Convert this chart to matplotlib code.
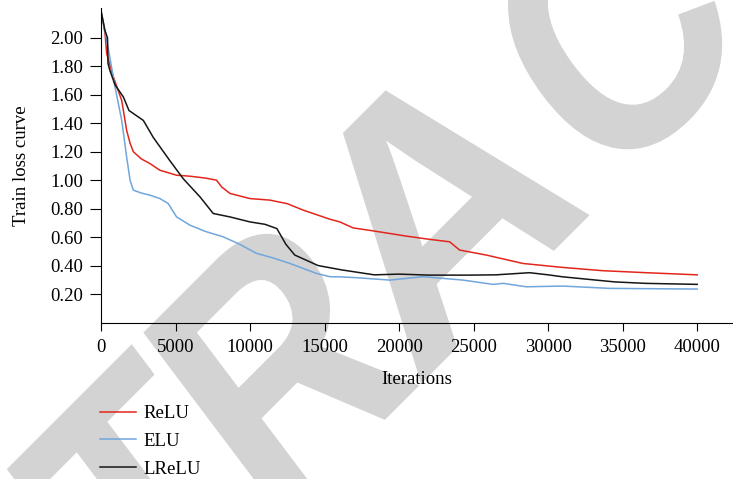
import matplotlib
matplotlib.use('Agg')
import matplotlib.pyplot as plt
import numpy as np
from matplotlib.textpath import TextPath
from matplotlib.font_manager import FontProperties
from matplotlib.patches import PathPatch
from matplotlib.transforms import Affine2D, IdentityTransform

plt.rcParams['font.family'] = ['Liberation Serif', 'DejaVu Serif']

# ==================== 数据 ====================
relu_it = [0, 160, 270, 380, 830, 1390, 1720, 1950, 2170, 2700, 3280, 3950, 5070, 5970, 7000,
           7750, 8090, 8650, 9990, 11330, 12500, 13560, 15350, 16020, 16910, 18500, 20490,
           22000, 23390, 24060, 25850, 28300, 30980, 33670, 36570, 40000]
relu_loss = [2.19, 2.10, 2.03, 1.89, 1.725, 1.56, 1.35, 1.26, 1.20, 1.15, 1.117, 1.07, 1.035,
             1.028, 1.015, 1.0, 0.953, 0.907, 0.871, 0.86, 0.835, 0.79, 0.726, 0.707, 0.665,
             0.64, 0.607, 0.585, 0.567, 0.509, 0.474, 0.415, 0.387, 0.364, 0.35, 0.335]

elu_it = [0, 490, 940, 1390, 1720, 1950, 2170, 2700, 3280, 3950, 4510, 5070, 5970, 7000, 8200,
          9300, 10430, 11500, 12670, 14460, 15350, 16020, 17140, 19370, 21600, 24290, 26300,
          27000, 28530, 30980, 34110, 40000]
elu_loss = [2.19, 1.924, 1.655, 1.42, 1.163, 1.0, 0.93, 0.91, 0.895, 0.871, 0.836, 0.742, 0.684,
            0.64, 0.602, 0.55, 0.486, 0.455, 0.415, 0.345, 0.322, 0.321, 0.315, 0.298, 0.322,
            0.298, 0.268, 0.275, 0.251, 0.256, 0.24, 0.235]

lrelu_it = [0, 270, 435, 470, 600, 940, 1500, 1875, 2840, 3510, 4620, 5520, 6640, 7530, 8650,
            9990, 11000, 11800, 12400, 13000, 14570, 16130, 18330, 20000, 22050, 24730, 26500,
            28750, 30000, 30980, 33220, 34500, 36570, 40000]
lrelu_loss = [2.19, 2.05, 2.0, 1.82, 1.77, 1.67, 1.585, 1.49, 1.42, 1.30, 1.137, 1.01, 0.883,
              0.766, 0.742, 0.707, 0.69, 0.66, 0.55, 0.474, 0.40, 0.37, 0.335, 0.34, 0.333,
              0.333, 0.335, 0.35, 0.335, 0.321, 0.298, 0.285, 0.275, 0.268]

series = [('ReLU', relu_it, relu_loss, '#e3261c'),
          ('ELU', elu_it, elu_loss, '#6fa6dc'),
          ('LReLU', lrelu_it, lrelu_loss, '#161616')]

y_ticks = [0.2, 0.4, 0.6, 0.8, 1.0, 1.2, 1.4, 1.6, 1.8, 2.0]
x_ticks = [0, 5000, 10000, 15000, 20000, 25000, 30000, 35000, 40000]

# ==================== 绘图 ====================
fig = plt.figure(figsize=(7.33, 4.79), dpi=100)
ax = fig.add_axes([0.1378, 0.3267, 0.8622, 0.6566])
ax.set_facecolor('none')

# 水印 RETRACTED：逐个字母放置（像素坐标，倾斜+旋转45度）
fp = FontProperties(family='Liberation Sans', weight='bold')
cap = TextPath((0, 0), 'RETRACTED', size=1, prop=fp).get_extents().y1
wm_letters = 'RETRACTED'
wm_centers = [-817, -608, -417, -217, 0, 252, 452, 597, 806]   # 沿基线的字母中心(px)
wm_xscale = [300, 300, 300, 300, 355, 300, 300, 300, 300]
base_tr = Affine2D().skew_deg(8, 0).rotate_deg(45).translate(362, 479 - 109)
for ch, cx, sx in zip(wm_letters, wm_centers, wm_xscale):
    p = TextPath((0, 0), ch, size=1, prop=fp)
    e = p.get_extents()
    tr = (Affine2D().translate(-(e.x0 + e.x1) / 2, -cap)
          .scale(sx, 236 / cap).translate(cx, 0)) + base_tr
    fig.add_artist(PathPatch(tr.transform_path(p), facecolor='#d3d3d3', edgecolor='none',
                             transform=IdentityTransform(), zorder=-1))

lines = []
for name, xs, ys, c in series:
    ln, = ax.plot(xs, ys, color=c, lw=1.1, label=name)
    lines.append(ln)

ax.set_xlim(0, 42400)
ax.set_ylim(0, 2.21)
ax.set_xticks(x_ticks)
ax.set_yticks(y_ticks)
ax.set_yticklabels([f'{v:.2f}' for v in y_ticks])
ax.spines['top'].set_visible(False)
ax.spines['right'].set_visible(False)
ax.tick_params(direction='out', width=0.8, labelsize=13.5)
ax.tick_params(axis='y', length=8, pad=4.7)
ax.tick_params(axis='x', length=5.5, pad=6.5)
ax.set_xlabel('Iterations', fontsize=13.5, labelpad=10.5)
ax.set_ylabel('Train loss curve', fontsize=13.5, labelpad=15)

fig.legend(handles=lines, loc='upper left', bbox_to_anchor=(0.1364, 0.154),
           frameon=False, fontsize=13.5, handlelength=1.9, handletextpad=0.4,
           labelspacing=0.56, borderpad=0, borderaxespad=0)

plt.savefig('out.png', dpi=100, facecolor='white')
